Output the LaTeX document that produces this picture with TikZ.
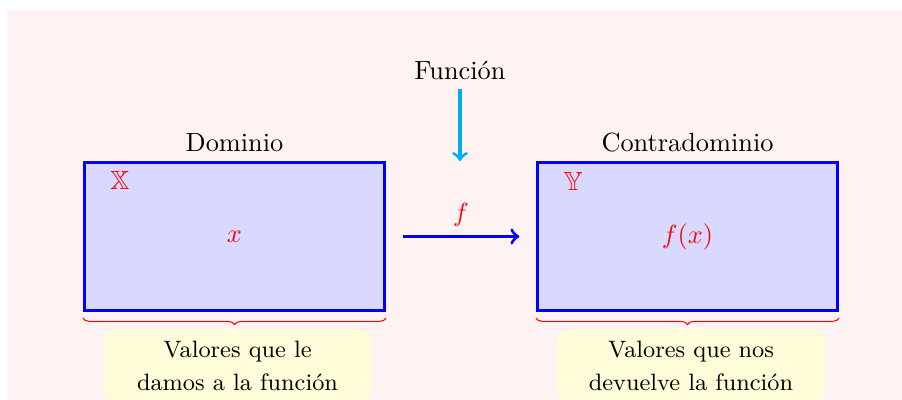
\documentclass[tikz,border=0pt]{standalone}
\usepackage{amssymb}
\usetikzlibrary{decorations.pathreplacing}
\definecolor{celeste}{RGB}{0,174,239}
\begin{document}
\begin{tikzpicture}[x=0.38pt, y=-0.38pt,
    conjunto/.style={draw=blue, very thick, fill=blue!15, minimum width=114pt, minimum height=56.2pt},
    nota/.style={fill=yellow!15, rounded corners=6pt, align=center, font=\small, minimum width=102pt, minimum height=28.5pt, inner ysep=1pt, anchor=north}]
    % fondo
    \useasboundingbox (0,0) rectangle (902,400);
    \clip (0,0) rectangle (902,400);
    \fill[red!5] (7,10) rectangle (902,400);
    
    % conjuntos
    \node[conjunto] (dom) at (234.5,236.5) {};
    \node[conjunto] (cod) at (687.5,236.5) {};
    \node[above] (tdom) at (dom.north) {Dominio};
    \node[above] (tcod) at (cod.north) {Contradominio};
    
    % elementos
    \node[red] (X) at (120,180) {$\mathbb{X}$};
    \node[red] (Y) at (573,181) {$\mathbb{Y}$};
    \node[red] (x) at (dom.center) {$x$};
    \node[red] (fx) at (cod.center) {$f(x)$};
    
    % la funcion
    \draw[->, blue, very thick, shorten <=6.3pt, shorten >=6.3pt] (dom.east) -- node[above, red] (f) {$f$} (cod.west);
    \node (fun) at (460,70) {Función};
    \coordinate (pfun) at (460,161);
    \draw[->, celeste, very thick] (fun) -- (pfun);
    
    % llaves
    \draw[red, decorate, decoration={brace, mirror, amplitude=2.5pt}] ([yshift=-2.3pt]dom.south west) -- ([yshift=-2.3pt]dom.south east);
    \draw[red, decorate, decoration={brace, mirror, amplitude=2.5pt}] ([yshift=-2.3pt]cod.south west) -- ([yshift=-2.3pt]cod.south east);
    
    % notas
    \node[nota] (ndom) at (237.5,328) {Valores que le\\[1.5pt]damos a la función};
    \node[nota] (ncod) at (691,328) {Valores que nos\\[1.5pt]devuelve la función};
\end{tikzpicture}
\end{document}
